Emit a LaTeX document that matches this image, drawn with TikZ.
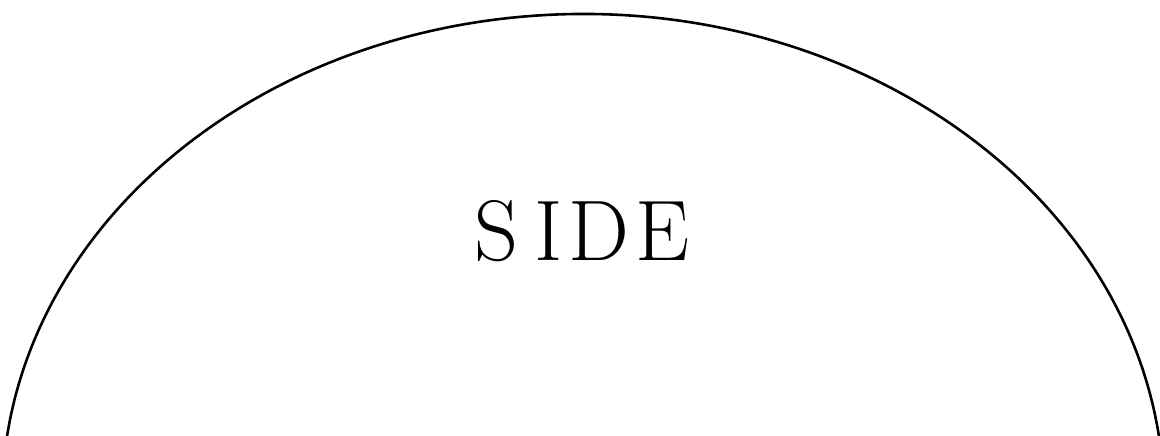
\documentclass[tikz,border=0pt]{standalone}
\usepackage{tikz}
\usetikzlibrary{positioning}
\definecolor{Ink}{HTML}{000000}

\begin{document}
\begin{tikzpicture}[x=1pt,y=1pt,
      outline/.style={draw=Ink,line width=2.6pt},
      title/.style={text=Ink,inner sep=0pt,font=\fontsize{86}{96}\selectfont}]
    \useasboundingbox (0,0) rectangle (1160,436);
    \coordinate (mid) at (583,-64);
    \draw[outline] (mid) ++(7.57:581 and 486)
      arc[start angle=7.57,end angle=172.43,x radius=581,y radius=486];
    \node[title] (side) at (582,205) {S\kern16pt I\kern6pt D\kern6pt E};
  \end{tikzpicture}
\end{document}
